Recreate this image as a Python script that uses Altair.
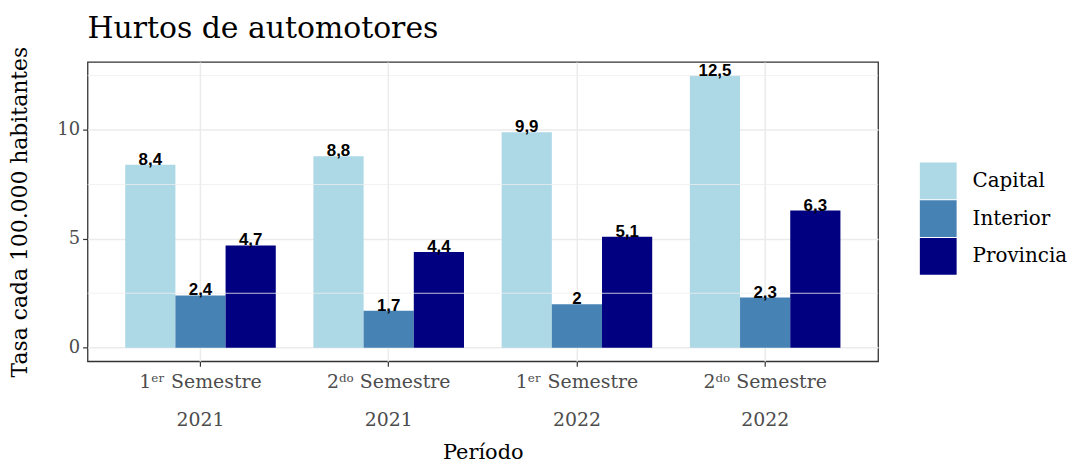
import altair as alt
import pandas as pd

# ---- data ----
periodos = ["1ᵉʳ Semestre|2021", "2ᵈᵒ Semestre|2021", "1ᵉʳ Semestre|2022", "2ᵈᵒ Semestre|2022"]
regiones = ["Capital", "Interior", "Provincia"]
capital = [8.4, 8.8, 9.9, 12.5]
interior = [2.4, 1.7, 2.0, 2.3]
provincia = [4.7, 4.4, 5.1, 6.3]
colores = ["#ADD8E6", "#4682B4", "#000080"]
y_ticks = [0, 5, 10]
y_minor = [2.5, 7.5, 12.5]

rows = []
for reg, vals in zip(regiones, [capital, interior, provincia]):
    for p, v in zip(periodos, vals):
        rows.append({"periodo": p, "region": reg, "tasa": v,
                     "etiqueta": f"{v:g}".replace(".", ",")})
df = pd.DataFrame(rows)
minor_df = pd.DataFrame({"tasa": y_minor})

SERIF = "DejaVu Serif"
SANS = "Liberation Sans"
W, H = 795, 301

y_scale = alt.Scale(domain=[-0.625, 13.125], nice=False, zero=False)
y_axis = alt.Axis(
    title="Tasa cada 100.000 habitantes", values=y_ticks,
    labelFont=SERIF, labelFontSize=18, labelColor="#4D4D4D", labelPadding=3,
    tickColor="#333333", tickSize=5, tickWidth=1.2, domain=False,
    grid=True, gridColor="#EBEBEB", gridWidth=1.5,
    titleFont=SERIF, titleFontSize=22, titleFontWeight="normal",
    titleColor="black", titleX=-61, titleY=H / 2, titleBaseline="alphabetic",
    titleAlign="center", titleAngle=270,
)
y_enc = alt.Y("tasa:Q", scale=y_scale, axis=y_axis)

x_enc = alt.X(
    "periodo:N", sort=periodos,
    scale=alt.Scale(paddingInner=0.2, paddingOuter=0.2),
    axis=alt.Axis(
        title="Período", labelExpr="split(datum.label, '|')", labelAngle=0,
        labelFont=SERIF, labelFontSize=19, labelColor="#4D4D4D",
        labelLineHeight=39, labelPadding=6, labelBaseline="top",
        tickColor="#333333", tickSize=5, tickWidth=1.2, domain=False,
        grid=True, gridColor="#EBEBEB", gridWidth=1.5,
        titleFont=SERIF, titleFontSize=21, titleFontWeight="normal",
        titleColor="black", titlePadding=12,
    ),
)
xoff = alt.XOffset("region:N", sort=regiones,
                   scale=alt.Scale(paddingInner=0, paddingOuter=0))

minor = alt.Chart(minor_df).mark_rule(color="#EFEFEF", strokeWidth=0.8).encode(
    y=y_enc
)

bars = alt.Chart(df).mark_bar(opacity=1).encode(
    x=x_enc, xOffset=xoff, y=y_enc,
    color=alt.Color(
        "region:N", sort=regiones,
        scale=alt.Scale(domain=regiones, range=colores),
        legend=alt.Legend(
            title=None, orient="none", legendX=837, legendY=101,
            symbolType="square", symbolSize=1369, symbolStrokeWidth=0,
            symbolOpacity=1, labelFont=SERIF, labelFontSize=20,
            labelColor="black", rowPadding=1, labelOffset=16,
        ),
    ),
)

labels = alt.Chart(df).mark_text(
    font=SANS, fontSize=17, fontWeight="bold", color="black",
    baseline="alphabetic", align="center", dy=0,
).encode(
    x=alt.X("periodo:N", sort=periodos), xOffset=xoff,
    y=y_enc, text="etiqueta:N",
)

chart = alt.layer(bars, minor, labels).properties(
    width=W, height=H,
    padding={"top": 5, "left": 0, "right": 0, "bottom": 0},
    title=alt.TitleParams(
        "Hurtos de automotores", anchor="start", frame="group",
        font=SERIF, fontSize=30, fontWeight="normal", color="black",
        offset=2,
    ),
).configure_view(stroke="#333333", strokeWidth=1.3)

chart.save("out.html", embed_options={"renderer": "svg", "actions": False})
